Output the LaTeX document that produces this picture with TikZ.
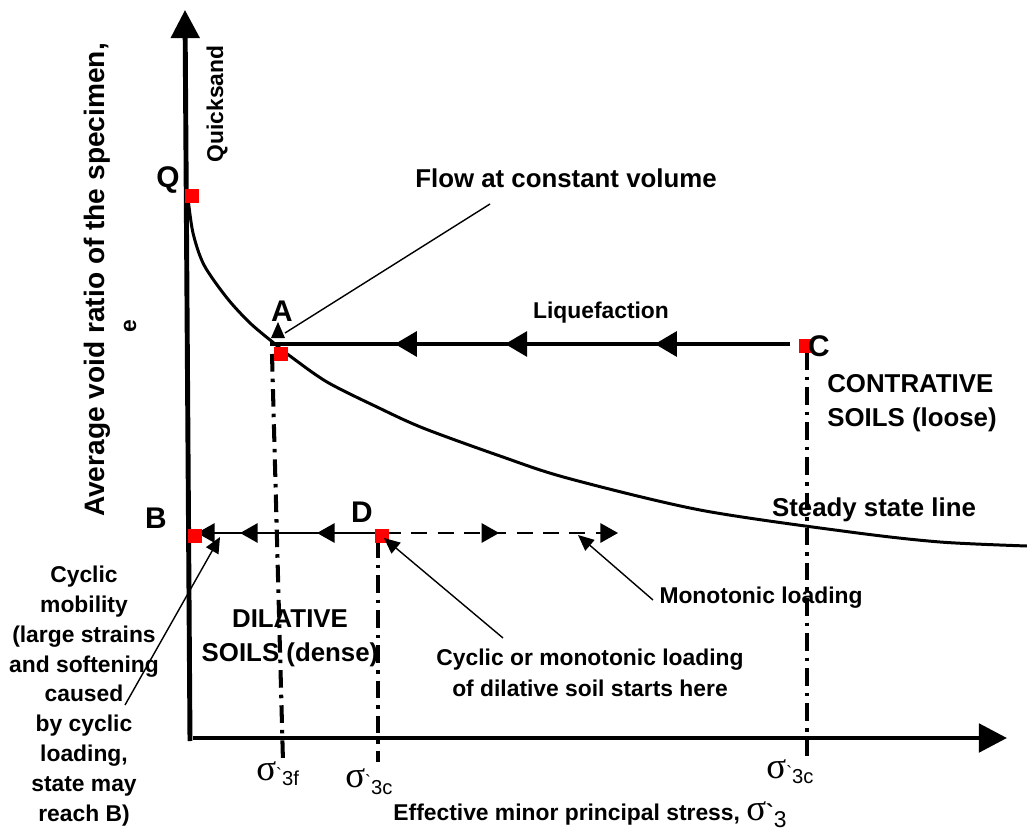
\documentclass[tikz,border=0pt]{standalone}
\usepackage{fontspec}
\setmainfont{Liberation Sans}
\newfontfamily\grkfont{Liberation Serif}
\usetikzlibrary{arrows.meta}
\usetikzlibrary{decorations.markings}

\newcommand{\sigsub}[2]{{\mdseries\grkfont\fontsize{21}{21}\selectfont σ}\textasciigrave\raisebox{-#2}{\mdseries\fontsize{11.5}{11.5}\selectfont #1}}

\tikzset{
    axisline/.style={line width=2.8pt, -{Triangle[length=16pt,width=16pt]}},
    ptbox/.style={fill=red, minimum size=8.5pt, inner sep=0pt},
    letter/.style={font=\bfseries\fontsize{17}{17}\selectfont},
    txt/.style={font=\bfseries\fontsize{13}{17}\selectfont, align=center},
    bigtxt/.style={font=\bfseries\fontsize{14.7}{19.4}\selectfont, align=center},
    stepline/.style={line width=1.1pt},
    pointer/.style={line width=0.8pt, -{Triangle[length=9pt,width=8pt]}},
    dashdot/.style={line width=2.3pt, dash pattern=on 10pt off 4pt on 2pt off 4pt},
}

\begin{document}
\begin{tikzpicture}[x=0.02cm, y=-0.02cm]
    \useasboundingbox (0,0) rectangle (1027,834);

    % axes
    \coordinate (O) at (190,741);
    \coordinate (ytip) at (185,10);
    \coordinate (xstart) at (193,738);
    \coordinate (xtip) at (1007,738);
    \draw[axisline] (O) -- (ytip);
    \draw[axisline] (xstart) -- (xtip);

    % steady state line
    \draw[line width=1.7pt] plot[smooth, tension=0.5] coordinates {(188,198) (193,233) (204,265) (227,298) (250,323) (275,344) (290,356) (327,382) (377,407) (423,428) (500,456) (567,478) (700,510) (850,532) (940,542) (1027,546)};

    % dash-dot projections
    \coordinate (fA) at (272,354);
    \coordinate (fAx) at (283,762);
    \coordinate (fD) at (378,540);
    \coordinate (fDx) at (378,762);
    \coordinate (fC) at (807,352);
    \coordinate (fCx) at (807,757);
    \draw[dashdot] (fA) -- (fAx);
    \draw[dashdot] (fD) -- (fDx);
    \draw[dashdot] (fC) -- (fCx);

    % liquefaction path C -> A
    \coordinate (Cl) at (790,344);
    \coordinate (Al) at (270,344);
    \draw[line width=2.3pt, postaction=decorate, decoration={markings,
        mark=at position .26 with {\arrow{Triangle[length=12.5pt,width=14pt]}},
        mark=at position .548 with {\arrow{Triangle[length=12.5pt,width=14pt]}},
        mark=at position .76 with {\arrow{Triangle[length=12.5pt,width=14pt]}}}] (Cl) -- (Al);
    \fill (271,338) -- (278,322) -- (285,338) -- cycle;

    % cyclic path D -> B
    \coordinate (Dl) at (378,533);
    \coordinate (Bl) at (197,533);
    \draw[stepline, -{Triangle[length=10pt,width=11pt]}, postaction=decorate, decoration={markings,
        mark=at position .337 with {\arrow{Triangle[length=10pt,width=11pt]}},
        mark=at position .762 with {\arrow{Triangle[length=10pt,width=11pt]}}}] (Dl) -- (Bl);

    % monotonic path from D
    \coordinate (Dr) at (385,533);
    \coordinate (Mend) at (618,533);
    \draw[stepline, dash pattern=on 9pt off 6pt, -{Triangle[length=10pt,width=11pt]}, postaction=decorate, decoration={markings,
        mark=at position .49 with {\arrow{Triangle[length=10pt,width=11pt]}}}] (Dr) -- (Mend);

    % state points
    \node[ptbox] (Q) at (192,196) {};
    \node[ptbox] (A) at (281,354) {};
    \node[ptbox] (B) at (195,536) {};
    \node[ptbox] (C) at (806,346) {};
    \node[ptbox] (D) at (382,536) {};

    \node[letter] (Qlbl) at (168,180) {Q};
    \node[letter] (Albl) at (282,311) {A};
    \node[letter] (Blbl) at (156,518) {B};
    \node[letter] (Clbl) at (819,346) {C};
    \node[letter] (Dlbl) at (362,512) {D};

    % texts
    \node[txt, rotate=90] (qsand) at (217,104) {Quicksand};
    \node[font=\bfseries\fontsize{16}{16}\selectfont, rotate=90] (ylbl) at (97,280) {Average void ratio of the specimen,};
    \node[txt, rotate=90] (elbl) at (130,326) {e};
    \node[bigtxt] (flow) at (566,178) {Flow at constant volume};
    \node[txt] (liq) at (601,313) {Liquefaction};
    \node[bigtxt, align=left] (contr) at (912,403) {CONTRATIVE\\SOILS (loose)};
    \node[bigtxt] (ssl) at (874,510) {Steady state line};
    \node[txt] (mono) at (761,598) {Monotonic loading};
    \node[bigtxt] (dil) at (290,638) {DILATIVE\\SOILS (dense)};
    \node[txt, font=\bfseries\fontsize{13}{18}\selectfont] (cml) at (590,673) {Cyclic or monotonic loading\\of dilative soil starts here};
    \node[txt] (cycmob) at (84,696) {Cyclic\\mobility\\(large strains\\and softening\\caused\\by cyclic\\loading,\\state may\\reach B)};

    % pointers
    \coordinate (flowtail) at (490,204);
    \coordinate (Atip) at (285,333);
    \draw[line width=0.8pt] (flowtail) -- (Atip);
    \coordinate (cmtail) at (125,705);
    \coordinate (Btip) at (220,537);
    \draw[pointer] (cmtail) -- (Btip);
    \coordinate (cmltail) at (503,638);
    \coordinate (Dtip) at (384,538);
    \draw[pointer] (cmltail) -- (Dtip);
    \coordinate (monotail) at (653,600);
    \coordinate (Mtip) at (578,535);
    \draw[pointer] (monotail) -- (Mtip);

    % stress labels
    \node[anchor=base west, inner sep=0pt] (s3f) at (256,780) {\sigsub{3f}{3pt}};
    \node[anchor=base west, inner sep=0pt] (s3c) at (345,787) {\sigsub{3c}{4.5pt}};
    \node[anchor=base west, inner sep=0pt] (s3cc) at (766,778) {\sigsub{3c}{3pt}};
    \node[txt, anchor=base] (xlbl) at (590,820) {Effective minor principal stress, {\mdseries\grkfont\fontsize{21}{21}\selectfont σ}\textasciigrave\raisebox{-4pt}{\mdseries\fontsize{13}{13}\selectfont 3}};
\end{tikzpicture}
\end{document}
